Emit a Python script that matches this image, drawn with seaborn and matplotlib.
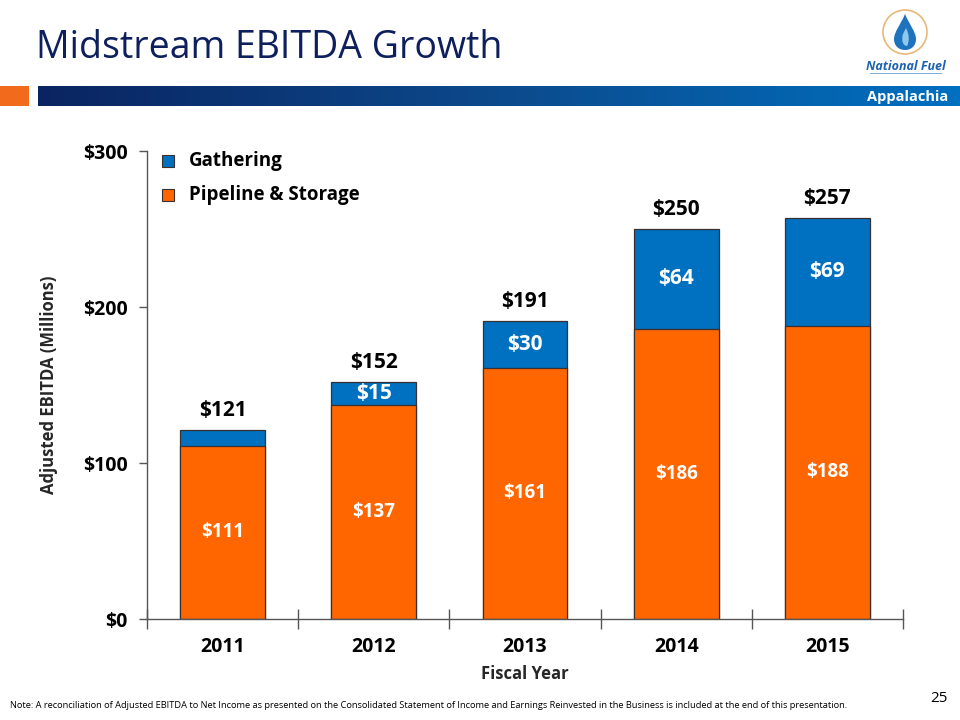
import numpy as np
import pandas as pd
import matplotlib
matplotlib.use("Agg")
import matplotlib.pyplot as plt
import seaborn as sns
from matplotlib.patches import Rectangle, Circle, PathPatch
from matplotlib.path import Path
from matplotlib.colors import LinearSegmentedColormap

years = ["2011", "2012", "2013", "2014", "2015"]
pipeline = [111, 137, 161, 186, 188]
gathering = [10, 15, 30, 64, 69]
totals = [121, 152, 191, 250, 257]
gathering_labels = ["", "$15", "$30", "$64", "$69"]
yticks = [0, 100, 200, 300]
ytick_labels = ["$0", "$100", "$200", "$300"]

ORANGE = "#FF6600"
BLUE = "#0070C0"
NAVY = "#0D1F5C"

sns.set_theme(style="white")
plt.rcParams["font.family"] = ["Open Sans", "DejaVu Sans"]

df = pd.DataFrame({"year": years, "pipeline": pipeline, "gathering": gathering, "total": totals})

fig = plt.figure(figsize=(9.6, 7.2), dpi=100)
W, H = 960, 720

def fx(x):
    return x / W

def fy(y):
    return 1 - y / H

ax = fig.add_axes([fx(147), fy(619), fx(903) - fx(147), fy(151) - fy(619)])

sns.barplot(data=df, x="year", y="total", color=BLUE, saturation=1, width=0.56,
            edgecolor="#3a3030", linewidth=0.9, ax=ax)
sns.barplot(data=df, x="year", y="pipeline", color=ORANGE, saturation=1, width=0.56,
            edgecolor="#3a3030", linewidth=0.9, ax=ax)

ax.set_xlim(-0.5, 4.5)
ax.set_ylim(0, 300)
ax.set_yticks(yticks)
ax.set_yticklabels(ytick_labels, fontsize=14, fontweight="bold", color="black")
ax.set_xticks(range(len(years)))
ax.set_xticklabels(years, fontsize=14, fontweight="bold", color="black")
ax.set_xticks(np.arange(-0.5, 5, 1), minor=True)
ax.tick_params(axis="x", which="major", bottom=False, length=0, pad=13)
ax.tick_params(axis="x", which="minor", bottom=True, length=14, direction="inout", width=1, color="#555555")
ax.tick_params(axis="y", which="major", left=True, length=6, direction="out", width=1, color="#555555", pad=8)
for s in ["top", "right"]:
    ax.spines[s].set_visible(False)
for s in ["left", "bottom"]:
    ax.spines[s].set_color("#555555")
    ax.spines[s].set_linewidth(1)
ax.set_xlabel("Fiscal Year", fontsize=12, fontweight="bold", labelpad=6)
ax.set_ylabel("Adjusted EBITDA (Millions)", fontsize=12, fontweight="bold", labelpad=18)
ax.grid(False)

for i in range(len(years)):
    ax.text(i, totals[i] + 12.5, f"${totals[i]}", ha="center", va="center",
            fontsize=15, fontweight="bold", color="black")
    ax.text(i, pipeline[i] / 2, f"${pipeline[i]}", ha="center", va="center",
            fontsize=13.5, fontweight="bold", color="white")
    if gathering_labels[i]:
        ax.text(i, pipeline[i] + gathering[i] / 2, gathering_labels[i], ha="center", va="center",
                fontsize=15, fontweight="bold", color="white")

# legend
for yy, col, lab in [(161, BLUE, "Gathering"), (195, ORANGE, "Pipeline & Storage")]:
    fig.patches.append(Rectangle((fx(162), fy(yy + 6)), 12 / W, 12 / H, transform=fig.transFigure,
                                 facecolor=col, edgecolor="#3a3030", linewidth=0.8))
    fig.text(fx(189), fy(yy), lab, ha="left", va="center", fontsize=13.5, fontweight="bold", color="black")

# header
fig.text(fx(36), fy(48), "Midstream EBITDA Growth", ha="left", va="center", fontsize=27, color=NAVY)

grad_ax = fig.add_axes([fx(38), fy(106), 1 - fx(38), fy(86) - fy(106)])
grad = np.linspace(0, 1, 256).reshape(1, -1)
cmap = LinearSegmentedColormap.from_list("hdr", ["#0A2461", "#0C4A8C", "#0070C0"])
grad_ax.imshow(grad, aspect="auto", cmap=cmap, extent=[0, 1, 0, 1])
grad_ax.set_axis_off()
fig.text(fx(948), fy(97), "Appalachia", ha="right", va="center", fontsize=10.5, fontweight="bold", color="white")
fig.patches.append(Rectangle((0, fy(106)), 29 / W, 20 / H, transform=fig.transFigure,
                             facecolor="#F26B1D", edgecolor="none"))

# logo
logo_ax = fig.add_axes([fx(875), fy(58), 60 / W, 52 / H])
logo_ax.set_xlim(-30, 30)
logo_ax.set_ylim(-26, 26)
logo_ax.set_aspect("equal")
logo_ax.set_axis_off()
logo_ax.add_patch(Circle((0, 0), 22, facecolor="white", edgecolor="#E8B77A", linewidth=1.2))
verts = [(0, 18), (4, 8), (11, 0), (11, -7), (11, -14), (6, -18), (0, -18),
         (-6, -18), (-11, -14), (-11, -7), (-11, 0), (-4, 8), (0, 18)]
codes = [Path.MOVETO] + [Path.CURVE4] * 12
logo_ax.add_patch(PathPatch(Path(verts, codes), facecolor="#1E73BE", edgecolor="none"))
verts2 = [(1, 4), (4, -2), (5, -8), (2, -14), (-2, -14), (-4, -8), (-2, -2), (1, 4)]
codes2 = [Path.MOVETO] + [Path.CURVE4] * 6 + [Path.LINETO]
logo_ax.add_patch(PathPatch(Path(verts2, codes2), facecolor="#8FC8EE", edgecolor="none"))
fig.text(fx(906), fy(66), "National Fuel", ha="center", va="center", fontsize=9,
         fontweight="bold", style="italic", color="#1E63B0")
fig.patches.append(Rectangle((fx(870), fy(74)), 72 / W, 1.2 / H, transform=fig.transFigure,
                             facecolor="#7FB0D8", edgecolor="none"))

# footer
fig.text(fx(10), fy(706), "Note: A reconciliation of Adjusted EBITDA to Net Income as presented on the Consolidated Statement of Income and Earnings Reinvested in the Business is included at the end of this presentation.",
         ha="left", va="center", fontsize=6.7, color="black")
fig.text(fx(948), fy(699), "25", ha="right", va="center", fontsize=11, color="black")

fig.savefig("out.png", dpi=100)
